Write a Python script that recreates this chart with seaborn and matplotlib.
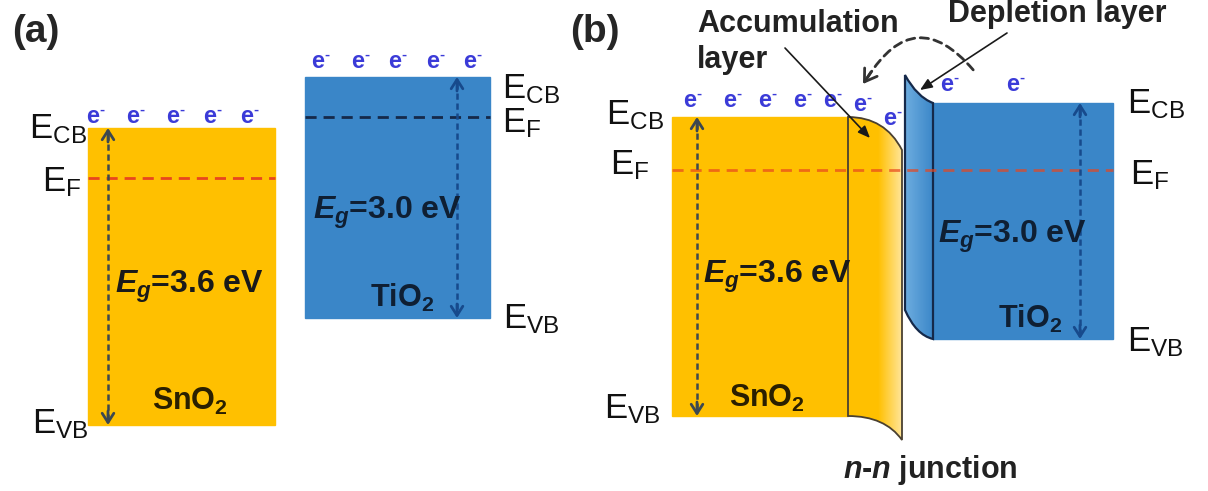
import numpy as np
import matplotlib
matplotlib.use('Agg')
import matplotlib.pyplot as plt
import seaborn as sns
from matplotlib.patches import Rectangle, PathPatch, FancyArrowPatch
from matplotlib.path import Path
from matplotlib.colors import LinearSegmentedColormap

# ── Band levels (figure pixel units, y grows downwards) ──────────
# panel (a): isolated SnO2 / TiO2
a_left = [88, 305]
a_right = [275, 490]
a_cb = [128, 77]
a_vb = [425, 318]
a_ef = [178, 117]
a_gap = ['3.6', '3.0']
a_names = ['SnO', 'TiO']
a_e_x = [[93, 133, 173, 210, 247], [318, 358, 395, 433, 470]]

# panel (b): n-n junction
b_left = [672, 933]
b_right = [848, 1113]
b_cb = [117, 103]
b_vb = [416, 339]
b_ef = 170
b_gap = ['3.6', '3.0']
b_e_x = [690, 730, 765, 800, 830, 860, 890, 947, 1013]
b_e_y = [101, 101, 101, 101, 101, 105, 119, 85, 85]

# bent band edges at the interface (quadratic curves)
acc_top = [(848, 117), (885, 117), (902, 150)]
acc_bottom = [(902, 440), (885, 416), (848, 416)]
dep_top = [(905, 75), (917, 97), (933, 103)]
dep_bottom = [(933, 339), (916, 335), (905, 310)]

YELLOW = '#FFC000'
BLUE = '#3A86C8'
EBLUE = '#3B3BD8'
RED = '#E8461E'
NAVY = '#15294A'

sns.set_theme(style='white')
plt.rcParams['font.family'] = ['Liberation Sans', 'DejaVu Sans']
plt.rcParams['mathtext.fontset'] = 'custom'
plt.rcParams['mathtext.rm'] = 'Liberation Sans'
plt.rcParams['mathtext.it'] = 'Liberation Sans:italic:bold'
plt.rcParams['mathtext.bf'] = 'Liberation Sans:bold'

fig = plt.figure(figsize=(12.08, 4.91), dpi=100)
ax = fig.add_axes([0, 0, 1, 1])


def e_label(x, y):
    # electron: bold "e" with a short superscript dash
    ax.text(x, y + 6, 'e', color=EBLUE, fontsize=17, fontweight='bold',
            ha='center', va='baseline', zorder=4)
    ax.text(x + 9, y - 3, '-', color=EBLUE, fontsize=11, fontweight='bold',
            ha='center', va='baseline', zorder=4)


def level_label(x, y, sub):
    ax.text(x, y, r'$\mathregular{E_{%s}}$' % sub, fontsize=25,
            ha='left', va='baseline', color='#111111', zorder=6)


def gap_arrow(x, top, bottom, color):
    ax.plot([x, x], [top + 6, bottom - 6], ls=(0, (2.5, 1.5)), color=color,
            lw=1.8, zorder=5)
    for end, start in ((top, top + 14), (bottom, bottom - 14)):
        ax.annotate('', xy=(x, end), xytext=(x, start),
                    arrowprops=dict(arrowstyle='->,head_length=0.55,head_width=0.35',
                                    color=color, lw=2, shrinkA=0, shrinkB=0),
                    zorder=5)


def fermi(x0, x1, y, color, alpha=1.0):
    sns.lineplot(x=[x0, x1], y=[y, y], ax=ax, color=color, lw=2,
                 linestyle=(0, (4, 2.5)), alpha=alpha, zorder=5)


def gradient(patch, x0, x1, c0, c1, z):
    cmap = LinearSegmentedColormap.from_list('g', [c0, c1])
    im = ax.imshow(np.linspace(0, 1, 64)[None, :], cmap=cmap, aspect='auto',
                   extent=[x0, x1, 460, 60], zorder=z)
    im.set_clip_path(patch)


# ── Panel (a) ─────────────────────────────────────────────────
colors = [YELLOW, BLUE]
arrow_colors = ['#3C4850', '#174A8C']
for i in range(2):
    ax.add_patch(Rectangle((a_left[i], a_cb[i]), a_right[i] - a_left[i],
                           a_vb[i] - a_cb[i], color=colors[i], zorder=1))
    for x in a_e_x[i]:
        e_label(x, a_cb[i] - 11 if i == 0 else a_cb[i] - 15)

fermi(a_left[0], a_right[0], a_ef[0], RED)
fermi(a_left[1], a_right[1], a_ef[1], NAVY)
gap_arrow(108, a_cb[0], a_vb[0], arrow_colors[0])
gap_arrow(457, a_cb[1], a_vb[1], arrow_colors[1])

ax.text(12, 32, '(a)', fontsize=28, fontweight='bold', va='center', ha='left')
level_label(29, 138, 'CB')
level_label(42, 191, 'F')
level_label(32, 433, 'VB')
level_label(502, 98, 'CB')
level_label(502, 132, 'F')
level_label(503, 328, 'VB')

ax.text(115, 287, r'$E_g$=%s eV' % a_gap[0], fontsize=23, fontweight='bold',
        va='center', ha='left', color='#1a1a1a', zorder=6)
ax.text(313, 213, r'$E_g$=%s eV' % a_gap[1], fontsize=23, fontweight='bold',
        va='center', ha='left', color='#0f1f33', zorder=6)
ax.text(190, 410, a_names[0] + r'$_\mathbf{2}$', fontsize=22, fontweight='bold',
        ha='center', va='baseline', color='#2a1f00', zorder=6)
ax.text(402, 307, a_names[1] + r'$_\mathbf{2}$', fontsize=22, fontweight='bold',
        ha='center', va='baseline', color='#0f1f33', zorder=6)

# ── Panel (b) ─────────────────────────────────────────────────
ax.add_patch(Rectangle((b_left[0], b_cb[0]), b_right[0] - b_left[0],
                       b_vb[0] - b_cb[0], color=YELLOW, zorder=1))

C = Path.CURVE3
acc_path = Path(acc_top + [acc_bottom[0]] + acc_bottom[1:] + [acc_top[0]],
                [Path.MOVETO, C, C, Path.LINETO, C, C, Path.CLOSEPOLY])
acc = PathPatch(acc_path, facecolor=YELLOW, edgecolor='none', zorder=2)
ax.add_patch(acc)
gradient(acc, 878, 903, YELLOW, '#FFE7A0', 2)
ax.add_patch(PathPatch(acc_path, facecolor='none', edgecolor='#4a4030', lw=1.3,
                       zorder=2.5))

ax.add_patch(Rectangle((b_left[1], b_cb[1]), b_right[1] - b_left[1],
                       b_vb[1] - b_cb[1], color=BLUE, zorder=1))

for x, y in zip(b_e_x, b_e_y):
    e_label(x, y)

dep_path = Path(dep_top + [dep_bottom[0]] + dep_bottom[1:] + [dep_top[0]],
                [Path.MOVETO, C, C, Path.LINETO, C, C, Path.CLOSEPOLY])
dep = PathPatch(dep_path, facecolor=BLUE, edgecolor='none', zorder=4.5)
ax.add_patch(dep)
gradient(dep, 904, 934, '#6FAEE0', BLUE, 4.5)
ax.add_patch(PathPatch(dep_path, facecolor='none', edgecolor=NAVY, lw=1.6,
                       zorder=4.6))

fermi(b_left[0], b_right[1], b_ef, RED, alpha=0.7)
gap_arrow(697, b_cb[0], b_vb[0], arrow_colors[0])
gap_arrow(1080, b_cb[1], b_vb[1], arrow_colors[1])

ax.text(570, 32, '(b)', fontsize=28, fontweight='bold', va='center', ha='left')
level_label(606, 124, 'CB')
level_label(610, 174, 'F')
level_label(604, 418, 'VB')
level_label(1127, 113, 'CB')
level_label(1130, 184, 'F')
level_label(1127, 351, 'VB')

ax.text(703, 277, r'$E_g$=%s eV' % b_gap[0], fontsize=23, fontweight='bold',
        va='center', ha='left', color='#1a1a1a', zorder=6)
ax.text(938, 237, r'$E_g$=%s eV' % b_gap[1], fontsize=23, fontweight='bold',
        va='center', ha='left', color='#0f1f33', zorder=6)
ax.text(767, 407, 'SnO' + r'$_\mathbf{2}$', fontsize=22, fontweight='bold',
        ha='center', va='baseline', color='#2a1f00', zorder=6)
ax.text(1030, 328, 'TiO' + r'$_\mathbf{2}$', fontsize=22, fontweight='bold',
        ha='center', va='baseline', color='#0f1f33', zorder=6)

ax.text(697, 24, 'Accumulation', fontsize=22, fontweight='bold',
        va='center', ha='left', color='#222222')
ax.text(697, 60, 'layer', fontsize=22, fontweight='bold',
        va='center', ha='left', color='#222222')
ax.text(948, 14, 'Depletion layer', fontsize=22, fontweight='bold',
        va='center', ha='left', color='#222222')
ax.text(843, 470, r'$n$-$n$ junction', fontsize=22, fontweight='bold',
        va='center', ha='left', color='#222222')

# pointer arrows
thin = dict(arrowstyle='-|>,head_length=0.6,head_width=0.25', color='#1a1a1a',
            lw=1.2, shrinkA=0, shrinkB=0)
ax.annotate('', xy=(870, 138), xytext=(785, 48), arrowprops=thin, zorder=7)
ax.annotate('', xy=(920, 90), xytext=(1007, 33), arrowprops=thin, zorder=7)

# dashed electron transfer arc
arc = FancyArrowPatch((975, 72), (866, 80), connectionstyle='arc3,rad=0.7',
                      arrowstyle='-', color='#333333', lw=2,
                      linestyle=(0, (3, 2)), zorder=7)
ax.add_patch(arc)
ax.annotate('', xy=(863, 84), xytext=(871, 72),
            arrowprops=dict(arrowstyle='->,head_length=0.7,head_width=0.45',
                            color='#333333', lw=2, shrinkA=0, shrinkB=0),
            zorder=7)

ax.set_xlim(0, 1208)
ax.set_ylim(491, 0)
ax.axis('off')
fig.savefig('out.png', dpi=100, facecolor='white')
